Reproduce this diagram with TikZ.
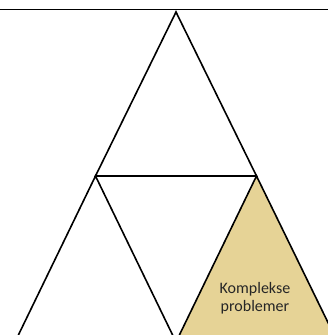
\documentclass[tikz,border=0pt]{standalone}
\usepackage{fontspec}
\setmainfont{Carlito}
\usepackage{tikz}
\usetikzlibrary{positioning}
\definecolor{tanfill}{RGB}{230,211,150}

\begin{document}
\begin{tikzpicture}[x=1pt,y=-1pt,edge/.style={line width=1.6pt,line join=miter},every node/.style={font=\fontsize{16}{17.5}\selectfont,text=black!85}]
  \useasboundingbox (0,0) rectangle (328,335);
  \clip (0,0) rectangle (328,335);
  \coordinate (top) at (176,12);
  \coordinate (midl) at (95.5,176);
  \coordinate (midr) at (256.5,176);
  \coordinate (botl) at (15,342);
  \coordinate (botm) at (176,342);
  \coordinate (botr) at (337.5,342);
  \draw[line width=0.8pt] (0,9) -- (328,9);
  \fill[tanfill] (midr) -- (botm) -- (botr) -- cycle;
  \draw[edge] (top) -- (midl) -- (midr) -- cycle;
  \draw[edge] (midl) -- (botl) -- (botm) -- cycle;
  \draw[edge] (midr) -- (botm) -- (botr) -- cycle;
  \node[anchor=base,align=center] (komplekse) at (255,311) {Komplekse\\problemer};
\end{tikzpicture}
\end{document}
